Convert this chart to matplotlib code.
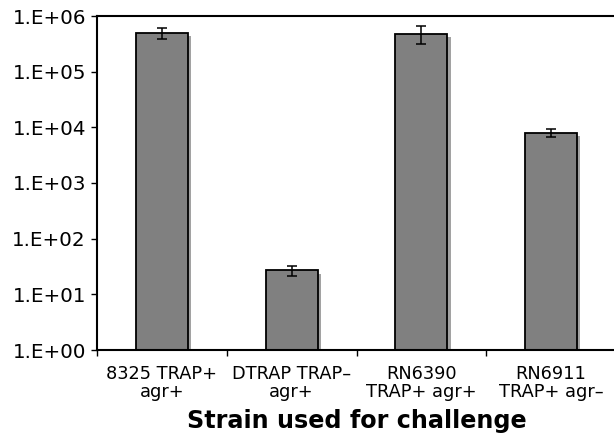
import matplotlib
matplotlib.use("Agg")
import matplotlib.pyplot as plt
import matplotlib.patheffects as pe
import numpy as np

categories = ["8325 TRAP+\nagr+", "DTRAP TRAP\u2013\nagr+", "RN6390\nTRAP+ agr+", "RN6911\nTRAP+ agr\u2013"]
values = [4.95e5, 27.0, 4.8e5, 8.0e3]
errors = [1.1e5, 5.3, 1.7e5, 1.2e3]
ytick_vals = [1e0, 1e1, 1e2, 1e3, 1e4, 1e5, 1e6]
ytick_labels = ["1.E+00", "1.E+01", "1.E+02", "1.E+03", "1.E+04", "1.E+05", "1.E+06"]
xlabel = "Strain used for challenge"

plt.rcParams['font.family'] = ['DejaVu Sans']
fig = plt.figure(figsize=(6.14, 4.34), dpi=100)
W, H = 614, 434
ax = fig.add_axes([97 / W, (H - 350) / H, (616 - 97) / W, (350 - 16) / H])

x = np.arange(len(categories))
bars = ax.bar(x, values, width=0.4, color="#808080", edgecolor="black", linewidth=1.3, zorder=2)
for b in bars:
    b.set_path_effects([pe.SimplePatchShadow(offset=(2.4, -2.4), shadow_rgbFace="#a2a2a2", alpha=1.0), pe.Normal()])
ax.errorbar(x, values, yerr=errors, fmt="none", ecolor="black", elinewidth=1.1, capsize=3.6, capthick=1.1, zorder=3)

ax.set_yscale("log")
ax.set_ylim(1, 1e6)
ax.set_yticks(ytick_vals)
ax.set_yticklabels(ytick_labels)
ax.yaxis.set_minor_locator(matplotlib.ticker.NullLocator())
ax.set_xlim(-0.5, len(categories) - 0.5)
ax.set_xticks(x)
ax.set_xticklabels(categories, fontsize=12.8, linespacing=1.0)
ax.set_xticks(np.arange(len(categories) + 1) - 0.5, minor=True)
ax.tick_params(axis="x", which="major", length=0, pad=10.5)
ax.tick_params(axis="x", which="minor", length=4, width=1.0, direction="out")
ax.tick_params(axis="y", which="major", length=4, width=1.0, labelsize=14.3, pad=4)
ax.set_xlabel(xlabel, fontsize=17.2, fontweight="bold", labelpad=6)

for s in ["top", "left", "bottom"]:
    ax.spines[s].set_linewidth(1.5)
    ax.spines[s].set_color("black")
ax.spines["right"].set_visible(False)

fig.savefig("out.png", dpi=100)
